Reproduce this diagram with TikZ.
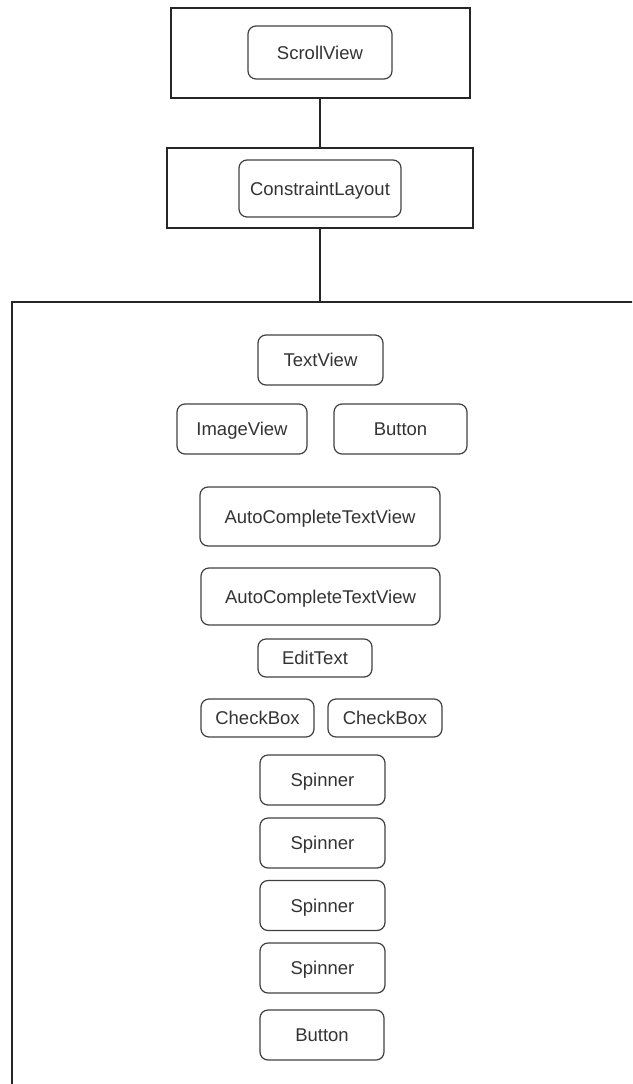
\documentclass[tikz,border=0pt]{standalone}
\usepackage{fontspec}
\setmainfont{Liberation Sans}
\usetikzlibrary{positioning}

\begin{document}
\begin{tikzpicture}[
  x=1pt, y=-1pt,
  font=\fontsize{18.5}{21}\selectfont,
  frame/.style={draw=black!85, line width=1.2pt, inner sep=0pt},
  ctrl/.style={rectangle, rounded corners=8pt, draw=black!75, line width=1.2pt,
               inner sep=0pt, text=black!80, minimum height=50pt,
               text height=13.2pt, text depth=0pt},
  thin/.style={ctrl, minimum height=38pt},
  link/.style={line width=1.2pt, draw=black!85},
]
\useasboundingbox (0,0) rectangle (632,1084);
\clip (0,0) rectangle (632,1084);

% ---- containers ----
\node[frame, minimum width=299pt, minimum height=90pt] (scrollFrame) at (320.5,53) {};
\node[ctrl, minimum width=144pt, minimum height=53pt] (scroll) at (320,52.5) {ScrollView};

\node[frame, minimum width=306pt, minimum height=80pt] (layoutFrame) at (320,188) {};
\node[ctrl, minimum width=162pt, minimum height=57pt] (layout) at (320,188.5) {ConstraintLayout};

\node[frame, minimum width=630pt, minimum height=792pt] (content) at (327,698) {};

% ---- widgets ----
\node[ctrl, minimum width=125pt] (text)    at (320.5,360) {TextView};
\node[ctrl, minimum width=130pt] (image)   at (242,429)   {ImageView};
\node[ctrl, minimum width=133pt] (button)  at (400.5,429) {Button};
\node[ctrl, minimum width=240pt, minimum height=59pt] (auto1) at (320,516.5) {AutoCompleteTextView};
\node[ctrl, minimum width=239pt, minimum height=57pt] (auto2) at (320.5,596.5) {AutoCompleteTextView};
\node[thin, minimum width=114pt] (edit)    at (315,658)   {EditText};
\node[thin, minimum width=113pt] (check1)  at (257.5,718) {CheckBox};
\node[thin, minimum width=114pt] (check2)  at (385,718)   {CheckBox};
\foreach \i/\y in {1/780,2/843,3/905.5,4/968}{
  \node[ctrl, minimum width=125pt] (spin\i) at (322.5,\y) {Spinner};
}
\node[ctrl, minimum width=124pt] (submit)  at (322,1035)  {Button};

% ---- links ----
\draw[link] (scrollFrame.south -| scroll) -- (layoutFrame.north -| scroll);
\draw[link] (layoutFrame.south -| scroll) -- (content.north -| scroll);
\end{tikzpicture}
\end{document}
